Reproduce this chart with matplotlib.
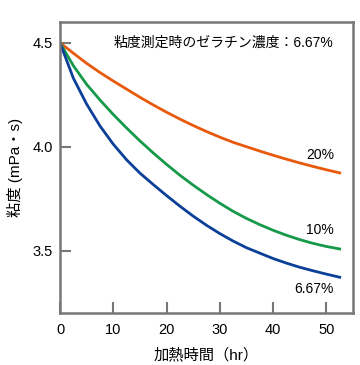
import matplotlib
matplotlib.use('Agg')
import matplotlib.pyplot as plt

# heating time (hr) and viscosity (mPa·s)
hours = [0, 2.5, 5, 7.5, 10, 12.5, 15, 17.5, 20, 22.5, 25,
         27.5, 30, 32.5, 35, 37.5, 40, 42.5, 45, 47.5, 50, 52.5]
visc_667 = [4.50, 4.33, 4.205, 4.10, 4.012, 3.937, 3.873, 3.818, 3.765, 3.714, 3.666,
            3.622, 3.582, 3.546, 3.514, 3.488, 3.462, 3.44, 3.42, 3.403, 3.387, 3.372]
visc_10 = [4.50, 4.39, 4.30, 4.225, 4.155, 4.09, 4.028, 3.97, 3.915, 3.863, 3.815,
           3.77, 3.728, 3.689, 3.655, 3.625, 3.598, 3.574, 3.553, 3.535, 3.52, 3.508]
visc_20 = [4.50, 4.45, 4.401, 4.357, 4.316, 4.277, 4.238, 4.201, 4.166, 4.133, 4.102,
           4.073, 4.046, 4.021, 4.00, 3.979, 3.959, 3.94, 3.922, 3.905, 3.889, 3.874]

x_ticks = [0, 10, 20, 30, 40, 50]
y_ticks = [3.5, 4.0, 4.5]
y_tick_labels = ['3.5', '4.0', '4.5']

plt.rcParams['font.family'] = ['Liberation Sans', 'Noto Sans CJK JP', 'DejaVu Sans']

fig = plt.figure(figsize=(3.6, 3.65), dpi=100)
ax = fig.add_axes([0.1667, 0.1425, 0.8139, 0.7972])

ax.plot(hours, visc_20, color='#E8590C', lw=2)
ax.plot(hours, visc_10, color='#17994A', lw=2)
ax.plot(hours, visc_667, color='#0B3F98', lw=2)

ax.set_xlim(0, 55)
ax.set_ylim(3.2, 4.6)
ax.set_xticks(x_ticks)
ax.set_yticks(y_ticks)
ax.set_yticklabels(y_tick_labels)

for s in ax.spines.values():
    s.set_color('#777777')
    s.set_linewidth(1.8)
ax.tick_params(direction='in', length=8, width=1.5, color='#777777', labelsize=10.5)
ax.tick_params(axis='x', pad=7)
ax.tick_params(axis='y', pad=5)

fs = 10
ax.text(51.4, 4.5, '粘度測定時のゼラチン濃度：6.67%', ha='right', va='center', fontsize=fs)
ax.text(51.4, 3.962, '20%', ha='right', va='center', fontsize=fs)
ax.text(51.4, 3.601, '10%', ha='right', va='center', fontsize=fs)
ax.text(51.4, 3.317, '6.67%', ha='right', va='center', fontsize=fs)

ax.set_xlabel('加熱時間（hr）', fontsize=11, labelpad=8)
ax.set_ylabel('粘度 (mPa・s)', fontsize=11, labelpad=7)

fig.savefig('out.png', dpi=100)
